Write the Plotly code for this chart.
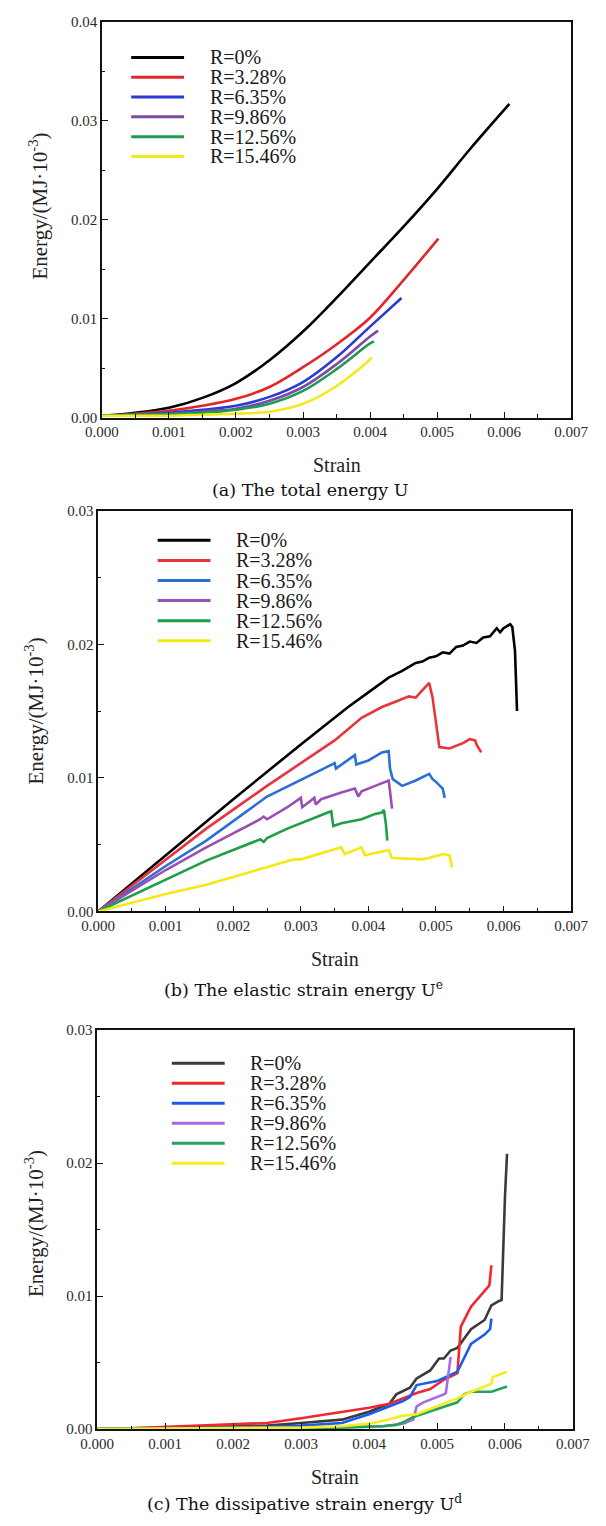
import plotly.graph_objects as go

W, H = 606, 1526
labels = ["R=0%", "R=3.28%", "R=6.35%", "R=9.86%", "R=12.56%", "R=15.46%"]

# ---------------- (a) total energy ----------------
a_x = [
    [0, 0.0005, 0.001, 0.0015, 0.002, 0.0025, 0.003, 0.0035, 0.004, 0.0045, 0.005, 0.0055, 0.00608],
    [0, 0.0005, 0.001, 0.0015, 0.002, 0.0025, 0.003, 0.0035, 0.004, 0.0045, 0.00502],
    [0, 0.0005, 0.001, 0.0015, 0.002, 0.0025, 0.003, 0.0035, 0.004, 0.00447],
    [0, 0.0005, 0.001, 0.0015, 0.002, 0.0025, 0.003, 0.0035, 0.004, 0.00412],
    [0, 0.0005, 0.001, 0.0015, 0.002, 0.0025, 0.003, 0.0035, 0.004, 0.00406],
    [0, 0.0005, 0.001, 0.0015, 0.002, 0.0025, 0.003, 0.0035, 0.004, 0.00402],
]
a_y = [
    [0.0002, 0.0005, 0.0010, 0.0020, 0.0035, 0.0058, 0.0087, 0.0121, 0.0157, 0.0193, 0.0231, 0.0272, 0.0317],
    [0.0002, 0.0004, 0.0007, 0.0012, 0.0019, 0.0031, 0.0051, 0.0074, 0.0101, 0.0139, 0.0181],
    [0.0002, 0.0003, 0.0005, 0.0008, 0.0012, 0.0021, 0.0036, 0.0061, 0.0092, 0.0121],
    [0.0002, 0.0003, 0.0004, 0.0006, 0.0009, 0.0017, 0.0031, 0.0054, 0.0082, 0.0088],
    [0.0002, 0.0003, 0.0004, 0.0005, 0.0008, 0.0014, 0.0027, 0.0049, 0.0075, 0.0077],
    [0.0002, 0.0002, 0.0002, 0.0003, 0.0004, 0.0006, 0.0014, 0.0032, 0.0059, 0.0061],
]

# ---------------- (b) elastic strain energy ----------------
b_x = [
    [0, 0.001, 0.002, 0.003, 0.0035, 0.0037, 0.0040, 0.0043, 0.0045, 0.0046, 0.0047, 0.0048, 0.0049,
     0.0050, 0.0051, 0.0052, 0.0053, 0.0054, 0.0055, 0.0056, 0.0057, 0.0058, 0.0059, 0.00595, 0.0060,
     0.0061, 0.00613, 0.00617, 0.0062],
    [0, 0.001, 0.0016, 0.0025, 0.003, 0.0035, 0.0039, 0.0041, 0.0042, 0.0044, 0.0046, 0.0047, 0.0049,
     0.00495, 0.0050, 0.00505, 0.0052, 0.0054, 0.0055, 0.00558, 0.0056, 0.00567],
    [0, 0.001, 0.0016, 0.0025, 0.0033, 0.0035, 0.00352, 0.0036, 0.0038, 0.00382, 0.0040, 0.0042,
     0.0043, 0.00432, 0.00436, 0.0045, 0.0047, 0.0049, 0.00495, 0.0050, 0.0051, 0.00513],
    [0, 0.001, 0.0016, 0.0024, 0.00245, 0.0025, 0.0028, 0.0030, 0.00302, 0.0031, 0.0032, 0.00322,
     0.0033, 0.0036, 0.0038, 0.00385, 0.0039, 0.0041, 0.0043, 0.00432, 0.00435],
    [0, 0.001, 0.0016, 0.0024, 0.00245, 0.0025, 0.0028, 0.0034, 0.00345, 0.00348, 0.0036, 0.0039,
     0.0041, 0.0042, 0.00423, 0.00426, 0.00428],
    [0, 0.001, 0.0016, 0.0029, 0.0030, 0.0036, 0.00365, 0.0038, 0.0039, 0.00395, 0.0042, 0.0043,
     0.00435, 0.0048, 0.0049, 0.0051, 0.0052, 0.00524],
]
b_y = [
    [0, 0.0042, 0.0084, 0.0125, 0.0145, 0.0153, 0.0164, 0.0175, 0.0180, 0.0183, 0.0186, 0.0187, 0.0190,
     0.0191, 0.0194, 0.0193, 0.0198, 0.0199, 0.0202, 0.0201, 0.0205, 0.0206, 0.0212, 0.0209, 0.0212,
     0.0215, 0.0213, 0.0195, 0.0150],
    [0, 0.0039, 0.0062, 0.0094, 0.0111, 0.0128, 0.0145, 0.0150, 0.0153, 0.0157, 0.0161, 0.0160, 0.0171,
     0.0160, 0.0140, 0.0123, 0.0122, 0.0126, 0.0129, 0.0128, 0.0125, 0.0119],
    [0, 0.0034, 0.0053, 0.0086, 0.0106, 0.0111, 0.0107, 0.0110, 0.0117, 0.0110, 0.0113, 0.0119,
     0.0120, 0.0107, 0.0099, 0.0094, 0.0098, 0.0103, 0.0099, 0.0097, 0.0092, 0.0085],
    [0, 0.0031, 0.0048, 0.0069, 0.0071, 0.0069, 0.0078, 0.0085, 0.0078, 0.0081, 0.0085, 0.0080,
     0.0084, 0.0089, 0.0092, 0.0086, 0.0090, 0.0094, 0.0098, 0.0090, 0.0077],
    [0, 0.0024, 0.0038, 0.0054, 0.0052, 0.0055, 0.0062, 0.0074, 0.0075, 0.0064, 0.0066, 0.0069,
     0.0073, 0.0074, 0.0076, 0.0065, 0.0053],
    [0, 0.0013, 0.0020, 0.0039, 0.0039, 0.0048, 0.0043, 0.0046, 0.0048, 0.0042, 0.0045, 0.0046,
     0.0040, 0.0039, 0.0040, 0.0043, 0.0042, 0.0033],
]

# ---------------- (c) dissipative strain energy ----------------
c_x = [
    [0, 0.0005, 0.001, 0.0015, 0.002, 0.0025, 0.003, 0.0036, 0.004, 0.0043, 0.0044, 0.0046, 0.0047,
     0.0049, 0.00503, 0.0051, 0.0052, 0.0053, 0.0054, 0.0055, 0.0057, 0.0058, 0.0059, 0.00595, 0.0060,
     0.00603],
    [0.0002, 0.001, 0.0016, 0.0025, 0.003, 0.0035, 0.004, 0.0043, 0.0047, 0.0049, 0.0051, 0.0053,
     0.00535, 0.0055, 0.0057, 0.00577, 0.0058],
    [0, 0.001, 0.002, 0.0025, 0.003, 0.0036, 0.004, 0.0043, 0.0045, 0.0046, 0.0047, 0.0050, 0.0052,
     0.0053, 0.0055, 0.0057, 0.00578, 0.0058],
    [0, 0.002, 0.003, 0.0036, 0.0042, 0.0045, 0.00465, 0.0047, 0.0048, 0.0051, 0.00513, 0.0052],
    [0, 0.002, 0.003, 0.0036, 0.0042, 0.0044, 0.0045, 0.00465, 0.0050, 0.0053, 0.0054, 0.0055, 0.0057,
     0.0058, 0.00603],
    [0, 0.002, 0.003, 0.0036, 0.0040, 0.0042, 0.0045, 0.0047, 0.0050, 0.0053, 0.0055, 0.0058, 0.00582,
     0.0060, 0.00603],
]
c_y = [
    [0, 0.00005, 0.0001, 0.00015, 0.0002, 0.00025, 0.00045, 0.0007, 0.0013, 0.0019, 0.0026, 0.0031,
     0.0038, 0.0044, 0.0053, 0.0053, 0.0059, 0.0061, 0.0068, 0.0075, 0.0082, 0.0093, 0.0096, 0.0097,
     0.0175, 0.0207],
    [0, 0.00015, 0.0003, 0.00045, 0.0008, 0.0012, 0.0016, 0.0019, 0.0027, 0.0030, 0.0037, 0.0042,
     0.0077, 0.0092, 0.0104, 0.0108, 0.0123],
    [0, 0.00005, 0.0001, 0.00015, 0.00025, 0.00045, 0.0011, 0.0017, 0.0021, 0.0024, 0.0033, 0.0036,
     0.0041, 0.0043, 0.0064, 0.0071, 0.0075, 0.0083],
    [0, 0.00003, 0.00008, 0.00015, 0.0002, 0.0004, 0.0007, 0.0017, 0.0020, 0.0026, 0.0027, 0.0054],
    [0, 0.00002, 0.00005, 0.0001, 0.0002, 0.0003, 0.0005, 0.0009, 0.0015, 0.0020, 0.0026, 0.0028,
     0.0028, 0.0028, 0.0032],
    [0, 0.00005, 0.0001, 0.0002, 0.0004, 0.0006, 0.0010, 0.0011, 0.0017, 0.0023, 0.0028, 0.0034,
     0.0039, 0.0042, 0.0043],
]

colors_a = ["#000000", "#e3262b", "#2a3bd4", "#7e4aa8", "#1f9a4e", "#f2ea1a"]
colors_b = ["#000000", "#e8343a", "#2a6fd6", "#9b4fb5", "#1f9e48", "#f3ea12"]
colors_c = ["#3a3a3a", "#f0282d", "#1d5ce8", "#a66be0", "#24a35a", "#f5ee1e"]

captions = ["(a) The total energy U",
            "(b) The elastic strain energy U<sup>e</sup>",
            "(c) The dissipative strain energy U<sup>d</sup>"]

# layout geometry in pixels: (left, right, top, bottom)
panels = [
    dict(box=(90, 587, 14, 414), yr=[0, 0.04], xs=a_x, ys=a_y, cols=colors_a, shape="spline",
         leg=(121, 177, 202, 50, 20.0), ytitle=(23, 200), xtitle=462, cap=(310, 487)),
    dict(box=(86, 587, 508, 913), yr=[0, 0.03], xs=b_x, ys=b_y, cols=colors_b, shape="linear",
         leg=(149, 205, 230, 538, 20.3), ytitle=(19, 710), xtitle=961, cap=(303, 991)),
    dict(box=(85, 589, 1033, 1436), yr=[0, 0.03], xs=c_x, ys=c_y, cols=colors_c, shape="linear",
         leg=(164, 220, 245, 1066.5, 20.2), ytitle=(18, 1228), xtitle=1485, cap=(305, 1511)),
]

def px(x):
    return x / W

def py(y):
    return 1 - y / H

SERIF = "Liberation Serif"
fig = go.Figure()
annotations = []
shapes = []
layout = {}

for i, p in enumerate(panels):
    n = "" if i == 0 else str(i + 1)
    xa, ya = "x" + n, "y" + n
    L, R, T, B = p["box"]
    for k in range(6):
        fig.add_trace(go.Scatter(
            x=p["xs"][k], y=p["ys"][k], mode="lines", name=labels[k],
            line=dict(color=p["cols"][k], width=2.6, shape=p["shape"], smoothing=1.0),
            xaxis=xa, yaxis=ya, showlegend=False, hoverinfo="skip"))
    axis_common = dict(showline=True, linecolor="#111", linewidth=1.5, mirror=True,
                       ticks="inside", ticklen=6, tickwidth=1.3, tickcolor="#111",
                       showgrid=False, zeroline=False,
                       tickfont=dict(family=SERIF, size=15, color="#2a2a2a"))
    layout["xaxis" + n] = dict(axis_common, domain=[px(L), px(R)], anchor=ya, range=[0, 0.007],
                               dtick=0.001, tick0=0, tickformat=".3f",
                               minor=dict(dtick=0.0005, ticks="inside", ticklen=3.5, tickwidth=1.2,
                                          tickcolor="#111", showgrid=False))
    layout["yaxis" + n] = dict(axis_common, domain=[py(B), py(T)], anchor=xa, range=p["yr"],
                               dtick=0.01, tick0=0, tickformat=".2f",
                               minor=dict(dtick=0.005, ticks="inside", ticklen=3.5, tickwidth=1.2,
                                          tickcolor="#111", showgrid=False))
    # legend (drawn manually, tight spacing as in the figure)
    lx0, lx1, tx, ly0, dy = p["leg"]
    for k in range(6):
        yy = ly0 + k * dy
        shapes.append(dict(type="line", xref="paper", yref="paper", x0=px(lx0), x1=px(lx1),
                           y0=py(yy), y1=py(yy), line=dict(color=p["cols"][k], width=3)))
        annotations.append(dict(text=labels[k], xref="paper", yref="paper", x=px(tx), y=py(yy),
                                xanchor="left", yanchor="middle", showarrow=False,
                                font=dict(family=SERIF, size=20, color="#1a1a1a")))
    # axis titles
    annotations.append(dict(text="Energy/(MJ·10<sup>-3</sup>)", xref="paper", yref="paper",
                            x=px(p["ytitle"][0]), y=py(p["ytitle"][1]), textangle=-90,
                            xanchor="center", yanchor="middle", showarrow=False,
                            font=dict(family=SERIF, size=21, color="#222")))
    annotations.append(dict(text="Strain", xref="paper", yref="paper",
                            x=px((L + R) / 2), y=py(p["xtitle"]), xanchor="center", yanchor="middle",
                            showarrow=False, font=dict(family=SERIF, size=20, color="#222")))
    annotations.append(dict(text=captions[i], xref="paper", yref="paper",
                            x=px(p["cap"][0]), y=py(p["cap"][1]), xanchor="center", yanchor="middle",
                            showarrow=False, font=dict(family="DejaVu Serif", size=17.5,
                                                       color="#111")))

fig.update_layout(width=W, height=H, margin=dict(l=0, r=0, t=0, b=0),
                  paper_bgcolor="white", plot_bgcolor="white",
                  font=dict(family=SERIF),
                  annotations=annotations, shapes=shapes, **layout)
fig.write_html("out.html")
